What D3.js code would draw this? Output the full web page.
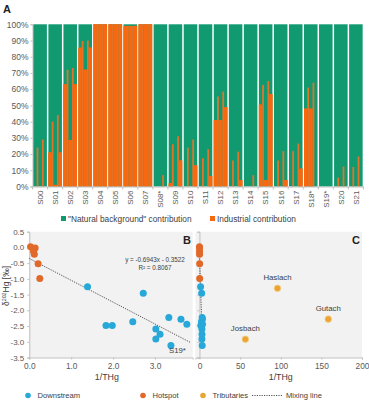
<!DOCTYPE html>
<html><head><meta charset="utf-8">
<script src="https://cdn.jsdelivr.net/npm/d3@7"></script>
<style>
html,body{margin:0;padding:0;background:#fff;}
svg{display:block;font-family:"Liberation Sans",Arial,sans-serif;}
</style></head>
<body><svg id="c" width="369" height="400"></svg>
<script>
// ---------- Panel A data (industrial contribution, %) ----------
const sites = ["S00","S01","S02","S03","S04","S05","S06","S07","S08*","S09","S10","S11","S12","S13","S14","S15","S16","S17","S18*","S19*","S20","S21"];
const leftVals   = [0,21,63,85.6,100,100,99,100,0,2,0,0,41,0,0,50.5,0,0,48,0,0,0];
const spike1Vals = [24,40,72,89.7,100,100,99,100,0,26,24,17.5,55.5,16,0,62.6,16,21.8,61,0,5.5,12];
const midVals    = [0,1,28.7,72,100,100,99,100,0,0,0,0,41,0,0,4,0,0,48,0,0,0];
const spike2Vals = [29,44,73,90,100,100,99,100,7,31,29,23,58.5,21.5,7,65,21.8,26.5,64,0,12.3,18.5];
const rightVals  = [0,21,63,85.6,100,100,99,100,0,16,13,6.5,49,4,0,57,4,11,0,0,0,0];
const pctTicks = [0,10,20,30,40,50,60,70,80,90,100];
const legendA = ["\"Natural background\" contribution","Industrial contribution"];

// ---------- Panel B/C data ----------
const downX = [1.39,2.72,1.83,1.98,2.47,3.02,3.12,3.02,3.38,3.33,3.62,3.76];
const downY = [-1.25,-1.46,-2.48,-2.48,-2.36,-2.59,-2.76,-2.91,-3.12,-2.23,-2.28,-2.44];
const hotX = [0.03,0.14,0.1,0.12,0.21,0.25];
const hotY = [0.02,-0.02,-0.12,-0.22,-0.52,-0.99];
const tribNames = ["Haslach","Gutach","Josbach"];
const tribX = [96,158.5,56.5];
const tribY = [-1.30,-2.28,-2.92];
const mixSlope = -0.6943, mixIntercept = -0.3522;
const bXTicks = [0,1,2,3];
const cXTicks = [0,50,100,150,200];
const yTicks = [0.5,0,-0.5,-1,-1.5,-2,-2.5,-3,-3.5];
const legendB = ["Downstream","Hotspot","Tributaries","Mixing line"];

const GREEN="#11996f", ORANGE="#f8680f", SPIKE="#e2742a";
const BLUE="#27a8d8", HOT="#e0692a", TRIB="#e9a532", TXT="#595959", AX="#bfbfbf";

const svg = d3.select("#c");

// ================= Panel A =================
const xA = d3.scaleBand().domain(sites).range([32.6,363.4]).paddingInner(0.1).paddingOuter(0.05);
const yA = d3.scaleLinear().domain([0,100]).range([186.5,24.3]);
const gA = svg.append("g");
gA.append("text").attr("x",3).attr("y",13).attr("font-size",11).attr("font-weight","bold").attr("fill","#222").text("A");

const yAxA = d3.axisLeft(yA).tickValues(pctTicks).tickFormat(d=>d+"%").tickSize(2).tickPadding(2);
const gyA = gA.append("g").attr("transform","translate(32.5,0)").call(yAxA);
gyA.select(".domain").attr("stroke",AX);
gyA.selectAll(".tick line").attr("stroke",AX);
gyA.selectAll("text").attr("font-size",8.5).attr("fill",TXT);

const subFrac = [0.24,0.13,0.26,0.13,0.24];
const subStart = subFrac.map((f,i)=>d3.sum(subFrac.slice(0,i)));
const siteData = sites.map((s,i)=>({s, vals:[leftVals[i],spike1Vals[i],midVals[i],spike2Vals[i],rightVals[i]]}));
const sg = gA.selectAll("g.site").data(siteData).join("g").attr("class","site")
  .attr("transform",d=>`translate(${xA(d.s)},0)`);
sg.append("rect").attr("x",0).attr("width",xA.bandwidth()).attr("y",yA(100)).attr("height",yA(0)-yA(100)).attr("fill",GREEN);
sg.selectAll("rect.sub").data(d=>d.vals.map((v,k)=>({v,k}))).join("rect").attr("class","sub")
  .attr("x",d=>subStart[d.k]*xA.bandwidth())
  .attr("width",d=>subFrac[d.k]*xA.bandwidth()+0.02)
  .attr("y",d=>yA(d.v)).attr("height",d=>yA(0)-yA(d.v))
  .attr("fill",d=>(d.k===1||d.k===3)?SPIKE:ORANGE);
sg.selectAll("rect.sub2").data(d=>d.vals.map((v,k)=>({v,k})).filter(e=>e.k%2===0)).join("rect").attr("class","sub2")
  .attr("x",d=>subStart[d.k]*xA.bandwidth())
  .attr("width",d=>subFrac[d.k]*xA.bandwidth())
  .attr("y",d=>yA(d.v)).attr("height",d=>yA(0)-yA(d.v)).attr("fill",ORANGE);

const xAxA = d3.axisBottom(xA).tickSize(0).tickPadding(4);
const gxA = gA.append("g").attr("transform","translate(0,186.5)").call(xAxA);
gxA.select(".domain").attr("stroke",AX);
gxA.selectAll("text").attr("font-size",8).attr("fill",TXT)
  .attr("transform","rotate(-90)").attr("text-anchor","end").attr("dy","0.35em").attr("x",-4).attr("y",0);
gA.selectAll("line.bt").data(sites.concat(["_end"])).join("line").attr("class","bt")
  .attr("x1",(d,i)=>i<sites.length? xA(d)-xA.step()*0.05 : xA(sites[sites.length-1])+xA.bandwidth()+xA.step()*0.05)
  .attr("x2",(d,i)=>i<sites.length? xA(d)-xA.step()*0.05 : xA(sites[sites.length-1])+xA.bandwidth()+xA.step()*0.05)
  .attr("y1",186.5).attr("y2",189.5).attr("stroke",AX);

const lgA = gA.append("g");
[[66,GREEN,legendA[0]],[215,ORANGE,legendA[1]]].forEach(([x,c,t])=>{
  lgA.append("rect").attr("x",x-5).attr("y",216).attr("width",5).attr("height",5).attr("fill",c);
  lgA.append("text").attr("x",x+2).attr("y",221.5).attr("font-size",8.3).attr("fill","#404040").text(t);
});

// ================= Panel B & C =================
const yB = d3.scaleLinear().domain([-3.5,0.5]).range([357.5,231.7]);
const xB = d3.scaleLinear().domain([0,3.9]).range([29.3,192.7]);
const xC = d3.scaleLinear().domain([-5,200]).range([195.4,362]);

const gB = svg.append("g");
gB.append("rect").attr("x",xB(0)).attr("y",yB(0.5)).attr("width",xB(3.9)-xB(0)).attr("height",yB(-3.5)-yB(0.5)).attr("fill","#f2f2f2");
gB.append("rect").attr("x",xC(-5)).attr("y",yB(0.5)).attr("width",xC(200)-xC(-5)).attr("height",yB(-3.5)-yB(0.5)).attr("fill","#f2f2f2");

const gyB = gB.append("g").attr("transform",`translate(${xB(0)},0)`)
  .call(d3.axisLeft(yB).tickValues(yTicks).tickFormat(d=>d.toFixed(1)).tickSize(2).tickPadding(3));
gyB.select(".domain").attr("stroke",AX);
gyB.selectAll(".tick line").attr("stroke",AX);
gyB.selectAll("text").attr("font-size",8).attr("fill",TXT);
const gxB = gB.append("g").attr("transform",`translate(0,${yB(-3.5)})`)
  .call(d3.axisBottom(xB).tickValues(bXTicks).tickFormat(d=>d.toFixed(1)).tickSize(2).tickPadding(4));
gxB.select(".domain").attr("stroke",AX);
gxB.selectAll(".tick line").attr("stroke",AX);
gxB.selectAll("text").attr("font-size",8.3).attr("fill",TXT);

const gxC = gB.append("g").attr("transform",`translate(0,${yB(-3.5)})`)
  .call(d3.axisBottom(xC).tickValues(cXTicks).tickSize(2).tickPadding(4));
gxC.select(".domain").attr("stroke",AX);
gxC.selectAll(".tick line").attr("stroke",AX);
gxC.selectAll("text").attr("font-size",8.3).attr("fill",TXT);
const gyC = gB.append("g").attr("transform",`translate(${xC(0)},0)`)
  .call(d3.axisLeft(yB).tickValues(yTicks).tickFormat("").tickSize(2));
gyC.select(".domain").attr("stroke",AX);
gyC.selectAll(".tick line").attr("stroke",AX);

gB.append("text").attr("x",xB(1.85)).attr("y",380).attr("text-anchor","middle").attr("font-size",8.8).attr("fill","#404040").text("1/THg");
gB.append("text").attr("x",xC(100)).attr("y",380).attr("text-anchor","middle").attr("font-size",8.8).attr("fill","#404040").text("1/THg");
const yt = gB.append("text").attr("transform","translate(8.5,286) rotate(-90)").attr("text-anchor","middle").attr("font-size",8.5).attr("fill","#404040");
yt.append("tspan").text("δ");
yt.append("tspan").attr("font-size",5.3).attr("dy",-3).text("202");
yt.append("tspan").attr("dy",3).text("Hg [‰]");

gB.append("text").attr("x",183).attr("y",244).attr("font-size",11).attr("font-weight","bold").attr("fill","#222").text("B");
gB.append("text").attr("x",352).attr("y",244).attr("font-size",11).attr("font-weight","bold").attr("fill","#222").text("C");

const mixX = [0,3.85];
const line = (xs)=>d3.line().x(d=>xs(d)).y(d=>yB(mixSlope*d+mixIntercept));
gB.append("path").datum(mixX).attr("d",line(xB)).attr("stroke","#404040").attr("stroke-width",0.9).attr("stroke-dasharray","1.2,1.2").attr("fill","none");
gB.append("path").datum(mixX).attr("d",line(xC)).attr("stroke","#404040").attr("stroke-width",0.9).attr("stroke-dasharray","1.2,1.2").attr("fill","none");

gB.append("text").attr("x",155).attr("y",262).attr("text-anchor","middle").attr("font-size",6.3).attr("fill","#404040").text("y = -0.6943x - 0.3522");
gB.append("text").attr("x",155).attr("y",270).attr("text-anchor","middle").attr("font-size",6.3).attr("fill","#404040").text("R² = 0.8067");

const down = downX.map((x,i)=>({x,y:downY[i]}));
const hot = hotX.map((x,i)=>({x,y:hotY[i]}));
const trib = tribX.map((x,i)=>({x,y:tribY[i],n:tribNames[i]}));
[[xB,"b"],[xC,"c"]].forEach(([xs,k])=>{
  gB.selectAll("circle.d"+k).data(down).join("circle").attr("class","d"+k)
    .attr("cx",d=>xs(d.x)).attr("cy",d=>yB(d.y)).attr("r",3.5).attr("fill",BLUE);
  gB.selectAll("circle.h"+k).data(hot).join("circle").attr("class","h"+k)
    .attr("cx",d=>xs(d.x)).attr("cy",d=>yB(d.y)).attr("r",3.5).attr("fill",HOT);
});
gB.selectAll("circle.t").data(trib).join("circle").attr("class","t")
  .attr("cx",d=>xC(d.x)).attr("cy",d=>yB(d.y)).attr("r",3.3).attr("fill",TRIB).attr("stroke","#f5cf8a").attr("stroke-width",0.8);
gB.selectAll("text.tl").data(trib).join("text").attr("class","tl")
  .attr("x",d=>xC(d.x)).attr("y",d=>yB(d.y)-8).attr("text-anchor","middle").attr("font-size",7.8).attr("fill","#404040").text(d=>d.n);
gB.append("text").attr("x",169).attr("y",353).attr("font-size",7.8).attr("fill","#404040").text("S19*");

const lg = gB.append("g");
[[28,BLUE,legendB[0]],[143,HOT,legendB[1]],[203,TRIB,legendB[2]]].forEach(([x,c,t])=>{
  lg.append("circle").attr("cx",x).attr("cy",395.5).attr("r",2.8).attr("fill",c);
  lg.append("text").attr("x",x+9.5).attr("y",398).attr("font-size",7.6).attr("fill","#404040").text(t);
});
lg.append("line").attr("x1",252).attr("x2",283).attr("y1",395.5).attr("y2",395.5).attr("stroke","#404040").attr("stroke-width",0.9).attr("stroke-dasharray","1.2,1.2");
lg.append("text").attr("x",286).attr("y",398).attr("font-size",7.6).attr("fill","#404040").text(legendB[3]);
</script></body></html>
